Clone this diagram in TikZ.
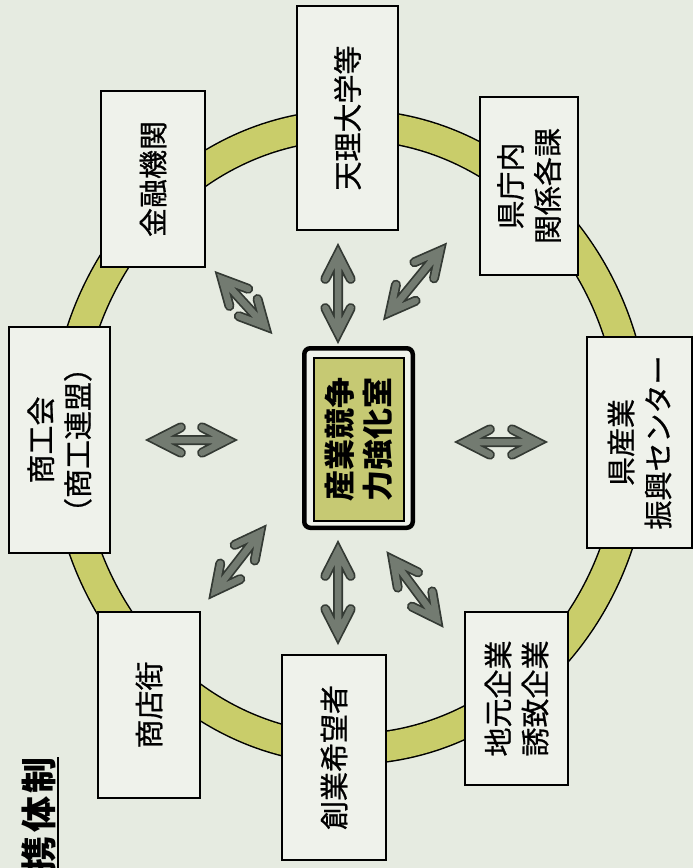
\documentclass[tikz,border=0pt]{standalone}
\usepackage{fontspec}
\newfontfamily\jp[FakeBold=0.7]{Noto Sans CJK JP}
\newfontfamily\jpb{Noto Sans CJK JP}
\usetikzlibrary{calc}
\definecolor{paper}{HTML}{E6EBE1}
\definecolor{boxfill}{HTML}{EFF2EB}
\definecolor{ringfill}{HTML}{C9CD6A}
\definecolor{corefill}{HTML}{C6C973}
\definecolor{arrowfill}{HTML}{737B71}
\definecolor{arrowedge}{HTML}{343A34}
\newcommand\twoway[2]{%
  \draw[arrowedge, line width=10pt, line cap=round, line join=miter]
    (#1) -- (#2)
    ($(#1)!28pt!27:(#2)$) -- (#1) -- ($(#1)!28pt!-27:(#2)$)
    ($(#2)!28pt!27:(#1)$) -- (#2) -- ($(#2)!28pt!-27:(#1)$);
  \draw[arrowfill, line width=6.5pt, line cap=round, line join=miter]
    (#1) -- (#2)
    ($(#1)!28pt!27:(#2)$) -- (#1) -- ($(#1)!28pt!-27:(#2)$)
    ($(#2)!28pt!27:(#1)$) -- (#2) -- ($(#2)!28pt!-27:(#1)$);}
\begin{document}
\begin{tikzpicture}[x=1pt,y=-1pt,
  orgbox/.style={draw=black, line width=1.6pt, fill=boxfill, rotate=90,
    inner sep=0pt, align=center, font=\jp\fontsize{29}{37}\selectfont},
  corestyle/.style={draw=black, line width=2pt, fill=corefill, rotate=90,
    inner sep=0pt, align=center, font=\jpb\bfseries\fontsize{31}{38}\selectfont},
  coreframe/.style={draw=black, line width=4.5pt, rounded corners=6pt,
    fill=boxfill, rotate=90, inner sep=0pt},
  titlestyle/.style={rotate=90, inner sep=0pt, anchor=east,
    font=\jpb\bfseries\fontsize{36}{36}\selectfont\addfontfeature{LetterSpace=10}}
]
\useasboundingbox (0,0) rectangle (693,868);
\clip (0,0) rectangle (693,868);
\fill[paper] (0,0) rectangle (693,868);
% ring
\draw[black, line width=32pt] (350,437) ellipse [x radius=285pt, y radius=312pt];
\draw[ringfill, line width=29pt] (350,437) ellipse [x radius=285pt, y radius=312pt];
% outer boxes
\node[orgbox, minimum width=224pt, minimum height=101pt] (tenri) at (347.5,118) {天理大学等};
\node[orgbox, minimum width=178pt, minimum height=98pt] (kencho) at (529,186) {県庁内\\関係各課};
\node[orgbox, minimum width=211pt, minimum height=105pt] (sangyo) at (639.5,442.5) {県産業\\振興センター};
\node[orgbox, minimum width=173pt, minimum height=103pt] (jimoto) at (516.5,698.5) {地元企業\\誘致企業};
\node[orgbox, minimum width=205pt, minimum height=104pt] (sogyo) at (334,757.5) {創業希望者};
\node[orgbox, minimum width=186pt, minimum height=102pt] (shoten) at (149,705) {商店街};
\node[orgbox, minimum width=226pt, minimum height=101pt] (shokokai) at (59.5,440) {商工会\\（商工連盟）};
\node[orgbox, minimum width=176pt, minimum height=104pt] (kinyu) at (153,179) {金融機関};
% center
\node[coreframe, minimum width=179.5pt, minimum height=108.5pt] (frame) at (358.5,438) {};
\node[corestyle, minimum width=163pt, minimum height=90pt] (core) at (358.5,439.5) {産業競争\\力強化室};
% arrows
\coordinate (n1) at (338,254); \coordinate (n2) at (338,333);
\coordinate (s1) at (338,551); \coordinate (s2) at (338,634);
\coordinate (w1) at (156,440); \coordinate (w2) at (227,440);
\coordinate (e1) at (465,442); \coordinate (e2) at (537,442);
\coordinate (nw1) at (222,279); \coordinate (nw2) at (265,326);
\coordinate (ne1) at (390,312); \coordinate (ne2) at (440,251);
\coordinate (sw1) at (215,591); \coordinate (sw2) at (260,533);
\coordinate (se1) at (393,560); \coordinate (se2) at (437,619);
\twoway{n1}{n2}
\twoway{s1}{s2}
\twoway{w1}{w2}
\twoway{e1}{e2}
\twoway{nw1}{nw2}
\twoway{ne1}{ne2}
\twoway{sw1}{sw2}
\twoway{se1}{se2}
% title
\node[titlestyle] (title) at (39,757) {携体制};
\draw[line width=2pt] ([xshift=1.5pt]title.south east) -- ++(0,140);
\end{tikzpicture}
\end{document}
